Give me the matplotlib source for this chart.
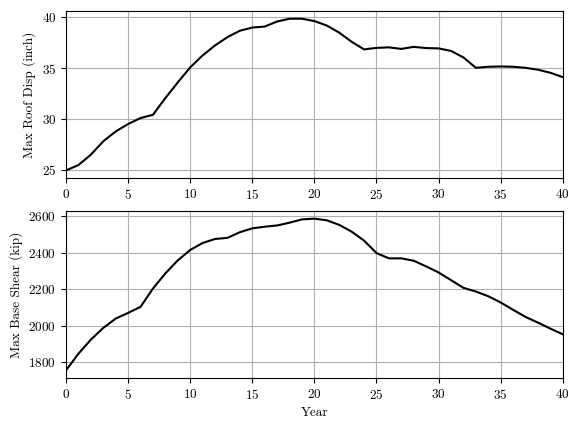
import numpy as np
import matplotlib
matplotlib.use("Agg")
import matplotlib.pyplot as plt

plt.rcParams['font.family'] = 'serif'
plt.rcParams['font.serif'] = ['cmr10']
plt.rcParams['mathtext.fontset'] = 'cm'
plt.rcParams['axes.formatter.use_mathtext'] = True
plt.rcParams['font.size'] = 9.5

years = np.arange(0, 41)

roof_disp = [24.93, 25.46, 26.48, 27.8, 28.77, 29.5, 30.09, 30.41, 32.06, 33.6,
             35.08, 36.26, 37.24, 38.06, 38.69, 39.0, 39.1, 39.6, 39.87, 39.87,
             39.64, 39.2, 38.5, 37.6, 36.85, 37.0, 37.05, 36.9, 37.1, 36.98,
             36.95, 36.7, 36.06, 35.04, 35.14, 35.17, 35.14, 35.04, 34.85, 34.55,
             34.12]

base_shear = [1756, 1847, 1924, 1988, 2039, 2070, 2103, 2203, 2286, 2357,
              2414, 2452, 2474, 2480, 2511, 2532, 2541, 2548, 2563, 2581,
              2585, 2576, 2551, 2514, 2465, 2397, 2368, 2368, 2355, 2324,
              2291, 2249, 2207, 2187, 2161, 2127, 2087, 2048, 2017, 1984,
              1953]

fig, (ax1, ax2) = plt.subplots(2, 1, figsize=(5.79, 4.29), dpi=100)
fig.subplots_adjust(left=0.114, right=0.972, top=0.974, bottom=0.119, hspace=0.198)

ax1.plot(years, roof_disp, color='k', lw=1.5)
ax1.set_xlim(0, 40)
ax1.set_ylabel('Max Roof Disp (inch)')
ax1.grid(True)

ax2.plot(years, base_shear, color='k', lw=1.5)
ax2.set_xlim(0, 40)
ax2.set_ylabel('Max Base Shear (kip)')
ax2.set_xlabel('Year')
ax2.grid(True)

fig.savefig('out.png', dpi=100)
